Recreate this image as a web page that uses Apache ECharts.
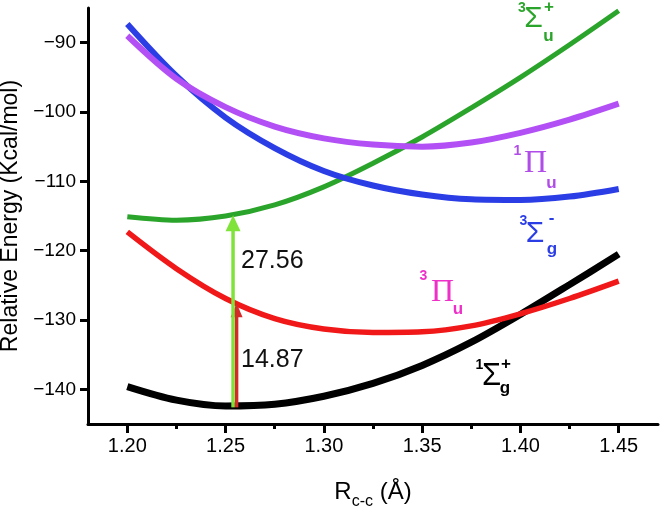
<!DOCTYPE html>
<html><head><meta charset="utf-8">
<script src="https://cdn.jsdelivr.net/npm/echarts@6/dist/echarts.min.js"></script>
<style>html,body{margin:0;padding:0;background:#fff}#c{width:662px;height:508px}</style>
</head><body><div id="c"></div>
<script>
// ---- data ----
const R = [1.20, 1.225, 1.25, 1.275, 1.30, 1.325, 1.35, 1.375, 1.40, 1.425, 1.45];
const S1gPlus  = [-139.6, -141.55, -142.4, -142.15, -141.0, -139.15, -136.55, -133.2, -129.2, -124.9, -120.5];
const P3u      = [-117.3, -122.6, -126.9, -129.8, -131.3, -131.8, -131.7, -130.85, -129.1, -126.9, -124.4];
const S3uPlus  = [-115.1, -115.6, -115.0, -113.4, -110.8, -107.4, -103.6, -99.4, -95.0, -90.3, -85.4];
const S3gMinus = [-87.3, -94.8, -100.8, -105.2, -108.5, -110.6, -111.9, -112.6, -112.7, -112.2, -111.1];
const P1u      = [-89.0, -95.2, -99.3, -102.1, -103.8, -104.7, -105.0, -104.4, -103.0, -101.1, -98.8];
// vertical excitation arrows: [R, from, to]
const arrowGreen = [1.2538, -142.6, -114.9];
const arrowRed   = [1.2556, -142.6, -127.6];
const arrowLabels = ['27.56', '14.87'];
const xTicks = [1.20, 1.25, 1.30, 1.35, 1.40, 1.45];
const xMinorTicks = [1.225, 1.275, 1.325, 1.375, 1.425];
const yTicks = [-140, -130, -120, -110, -100, -90];

const zip = (ys) => R.map((x, i) => [x, ys[i]]);

function lineSeries(ys, color, w) {
  return { type: 'line', data: zip(ys), showSymbol: false, smooth: 0.33,
    lineStyle: { color, width: w }, itemStyle: { color }, z: 2, silent: true, animation: false };
}
function arrowSeries(a, color, lw, headW, headH, z) {
  return { type: 'custom', data: [a], z, animation: false, silent: true,
    renderItem(params, api) {
      const p0 = api.coord([api.value(0), api.value(1)]);
      const p1 = api.coord([api.value(0), api.value(2)]);
      return { type: 'group', children: [
        { type: 'line', shape: { x1: p0[0], y1: p0[1], x2: p1[0], y2: p1[1] + headH - 1 },
          style: { stroke: color, lineWidth: lw } },
        { type: 'polygon', shape: { points: [[p1[0], p1[1]], [p1[0] - headW / 2, p1[1] + headH], [p1[0] + headW / 2, p1[1] + headH]] },
          style: { fill: color } }
      ]};
    } };
}
function txt(text, x, y, size, color, opts) {
  opts = opts || {};
  return { type: 'text', x, y, z: 100, silent: true,
    style: { text, fontSize: size, fill: color, fontFamily: opts.family || 'Liberation Sans, Arial, sans-serif',
      fontWeight: opts.weight || 'normal', align: 'center', verticalAlign: 'middle' } };
}
const B = { weight: 'bold' };
const SERIF = { family: 'Liberation Serif, Times New Roman, serif' };
const cG = '#2ba42b', cP = '#b04ce8', cB = '#2b3ee6', cM = '#ee30c8';

const chart = echarts.init(document.getElementById('c'));
chart.setOption({
  animation: false,
  backgroundColor: '#fff',
  grid: { left: 88, right: 4, top: 8, bottom: 84, containLabel: false, outerBoundsMode: 'none' },
  xAxis: [{
    type: 'value', min: 1.18, max: 1.47,
    name: '{m|R}{s|c-c}{m| (Å)}', nameLocation: 'middle', nameGap: 50,
    nameTextStyle: { rich: {
      m: { fontSize: 24, lineHeight: 36, verticalAlign: 'middle', color: '#000', fontFamily: 'Liberation Sans, Arial' },
      s: { fontSize: 16, lineHeight: 16, verticalAlign: 'bottom', color: '#000', fontFamily: 'Liberation Sans, Arial' } } },
    axisLine: { onZero: false, lineStyle: { color: '#000', width: 3 } },
    axisTick: { customValues: xTicks, length: 9, lineStyle: { width: 3, color: '#000' } },
    axisLabel: { customValues: xTicks, margin: 12, fontSize: 20, color: '#000', fontFamily: 'Liberation Sans, Arial',
      formatter: v => v.toFixed(2) },
    splitLine: { show: false }
  }, {
    type: 'value', min: 1.18, max: 1.47, position: 'bottom',
    axisLine: { show: false },
    axisTick: { customValues: xMinorTicks, length: 5, lineStyle: { width: 3, color: '#000' } },
    axisLabel: { show: false }, splitLine: { show: false }
  }],
  yAxis: {
    type: 'value', min: -145, max: -85,
    name: 'Relative Energy (Kcal/mol)', nameLocation: 'middle', nameGap: 65, nameRotate: 90,
    nameTextStyle: { fontSize: 23, color: '#000', fontFamily: 'Liberation Sans, Arial' },
    axisLine: { show: true, lineStyle: { color: '#000', width: 3 } },
    axisTick: { show: true, customValues: yTicks, length: 8, lineStyle: { width: 3, color: '#000' } },
    axisLabel: { customValues: yTicks, margin: 12, fontSize: 19, color: '#000', fontFamily: 'Liberation Sans, Arial',
      formatter: v => String(v).replace('-', '\u2212') },
    splitLine: { show: false }
  },
  series: [
    lineSeries(S1gPlus, '#000000', 7),
    lineSeries(P3u, '#f01818', 5.5),
    lineSeries(S3uPlus, cG, 5),
    lineSeries(S3gMinus, cB, 6),
    lineSeries(P1u, '#b350f5', 6),
    arrowSeries(arrowRed, '#d42a2a', 3.5, 12, 14, 5),
    arrowSeries(arrowGreen, '#7fe33a', 3.5, 15, 16, 6)
  ],
  graphic: [
    { type: 'text', left: 241, top: 249, z: 100, style: { text: arrowLabels[0], fontSize: 25, fill: '#111', fontFamily: 'Liberation Sans, Arial' } },
    { type: 'text', left: 241, top: 348, z: 100, style: { text: arrowLabels[1], fontSize: 25, fill: '#111', fontFamily: 'Liberation Sans, Arial' } },
    // 3Σu+
    txt('3', 522, 8.5, 14, cG, B), txt('Σ', 533.5, 18.5, 30, cG), txt('u', 548.5, 36, 17, cG, B), txt('+', 549, 7.5, 17, cG, B),
    // 1Πu
    txt('1', 517.5, 151, 14, cP, B), txt('Π', 535.5, 164, 32, cP, SERIF), txt('u', 551.5, 183.5, 17, cP, B),
    // 3Σg-
    txt('3', 523.5, 221, 14, cB, B), txt('Σ', 535, 233.5, 30, cB), txt('-', 551.5, 218.5, 17, cB, B), txt('g', 552, 249, 17, cB, B),
    // 3Πu
    txt('3', 423.5, 276, 14, cM, B), txt('Π', 442.5, 292.5, 32, cM, SERIF), txt('u', 458, 309.5, 17, cM, B),
    // 1Σg+
    txt('1', 479.5, 365, 14, '#000', B), txt('Σ', 491.5, 376.5, 31, '#000'), txt('+', 506, 364, 17, '#000', B), txt('g', 505, 388, 17, '#000', B)
  ]
});
</script></body></html>
